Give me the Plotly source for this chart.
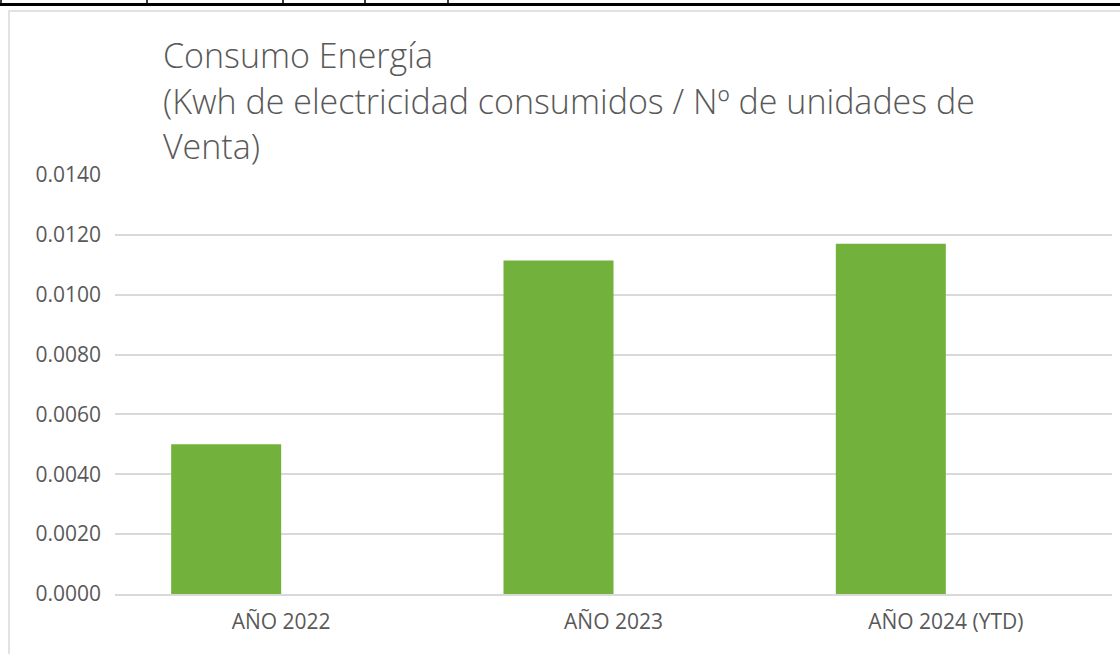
import plotly.graph_objects as go

# ---- data ----
categories = ["AÑO 2022", "AÑO 2023", "AÑO 2024 (YTD)"]
consumo = [0.0050, 0.01114, 0.0117]
serie_vacia = [None, None, None]
tick_vals = [0.0000, 0.0020, 0.0040, 0.0060, 0.0080, 0.0100, 0.0120, 0.0140]
tick_text = ["0.0000", "0.0020", "0.0040", "0.0060", "0.0080", "0.0100", "0.0120", "0.0140"]
title_lines = ["Consumo Energía",
               "(Kwh de electricidad consumidos / Nº de unidades de",
               "Venta)"]

W, H = 1120, 654
ML, MR, MT, MB = 115, 8, 175, 60
PW, PH = W - ML - MR, H - MT - MB

def px_x(x):
    return (x - ML) / PW

def px_y(y):
    return (H - MB - y) / PH

FONT = "Open Sans"
GRAY = "#595959"

fig = go.Figure()
fig.add_trace(go.Bar(x=categories, y=consumo, marker=dict(color="#72b23c", line=dict(width=0)),
                     showlegend=False, hoverinfo="y"))
fig.add_trace(go.Bar(x=categories, y=serie_vacia, marker=dict(color="#a5a5a5"),
                     showlegend=False, hoverinfo="skip"))

fig.update_layout(
    width=W, height=H,
    margin=dict(l=ML, r=MR, t=MT, b=MB),
    paper_bgcolor="white", plot_bgcolor="white",
    barmode="group", bargap=0.338, bargroupgap=0,
    font=dict(family=FONT, color=GRAY, size=20),
)
fig.update_yaxes(range=[0, 0.014], tickvals=tick_vals, ticktext=tick_text,
                 showgrid=True, gridcolor="#d9d9d9", gridwidth=1.5,
                 zeroline=False, showline=False, ticks="",
                 ticklabelstandoff=13,
                 tickfont=dict(family=FONT, size=21, color=GRAY))
fig.update_xaxes(showgrid=False, showline=True, linecolor="#d9d9d9", linewidth=1.5,
                 ticks="", ticklabelstandoff=8,
                 tickfont=dict(family=FONT, size=21, color=GRAY))

# title lines
centers = [55, 101, 146]
for txt, cy in zip(title_lines, centers):
    fig.add_annotation(text=txt, xref="paper", yref="paper", x=px_x(161), y=px_y(cy),
                       xanchor="left", yanchor="middle", showarrow=False,
                       font=dict(family=FONT, size=34, color=GRAY, weight=300))

# chart frame and table borders above (decorative)
shapes = [
    dict(type="rect", xref="paper", yref="paper", x0=px_x(9), x1=px_x(1130), y0=px_y(11), y1=px_y(660),
         line=dict(color="#d9d9d9", width=1.5), fillcolor="rgba(0,0,0,0)", layer="below"),
    dict(type="line", xref="paper", yref="paper", x0=px_x(0), x1=px_x(1120), y0=px_y(4.5), y1=px_y(4.5),
         line=dict(color="black", width=3)),
]
for vx in [1, 147, 283, 365, 448]:
    shapes.append(dict(type="line", xref="paper", yref="paper", x0=px_x(vx), x1=px_x(vx),
                       y0=px_y(0), y1=px_y(4), line=dict(color="black", width=1.5)))
fig.update_layout(shapes=shapes)

fig.write_html("out.html", config={"displayModeBar": False},
               post_script="document.body.style.margin='0';")
